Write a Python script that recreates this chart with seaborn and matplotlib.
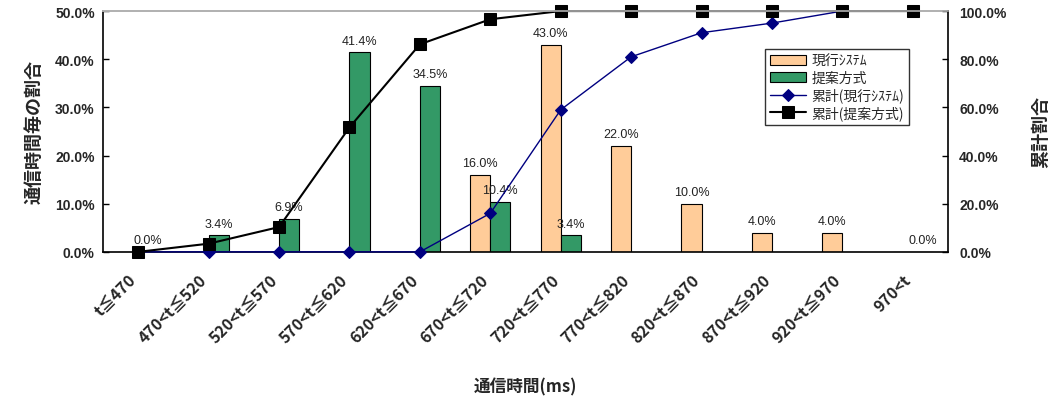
import numpy as np
import pandas as pd
import matplotlib
matplotlib.use("Agg")
import matplotlib.pyplot as plt
import matplotlib.transforms as mtransforms
import seaborn as sns
from matplotlib.ticker import FuncFormatter, FixedLocator
from matplotlib.patches import Patch

categories = ["t≦470", "470<t≦520", "520<t≦570", "570<t≦620", "620<t≦670",
              "670<t≦720", "720<t≦770", "770<t≦820", "820<t≦870", "870<t≦920",
              "920<t≦970", "970<t"]
current = [0.0, 0.0, 0.0, 0.0, 0.0, 16.0, 43.0, 22.0, 10.0, 4.0, 4.0, 0.0]
proposed = [0.0, 3.4, 6.9, 41.4, 34.5, 10.4, 3.4, 0.0, 0.0, 0.0, 0.0, 0.0]
cum_current = [0.0, 0.0, 0.0, 0.0, 0.0, 16.0, 59.0, 81.0, 91.0, 95.0, 100.0, 100.0]
cum_proposed = [0.0, 3.4, 10.3, 51.7, 86.2, 96.6, 100.0, 100.0, 100.0, 100.0, 100.0, 100.0]
series_names = ["現行ｼｽﾃﾑ", "提案方式", "累計(現行ｼｽﾃﾑ)", "累計(提案方式)"]
# which zero-valued bars still carry a label (proposed series)
zero_labels_proposed = [0, 11]

sns.set_theme(style="white")
plt.rcParams['font.family'] = ['Noto Sans CJK JP', 'DejaVu Sans']

fig = plt.figure(figsize=(10.58, 4.02), dpi=100)
ax = fig.add_axes([0.0974, 0.371, 0.7986, 0.599])

df = pd.DataFrame({
    "cat": categories * 2,
    "val": current + proposed,
    "series": [series_names[0]] * len(categories) + [series_names[1]] * len(categories),
})
bar_colors = {series_names[0]: "#FFCC99", series_names[1]: "#339966"}
sns.barplot(data=df, x="cat", y="val", hue="series", order=categories,
            hue_order=series_names[:2], palette=bar_colors, width=0.57,
            edgecolor="black", linewidth=0.8, ax=ax, legend=False, saturation=1)

ax.set_ylim(0, 50)
ax.set_xlim(-0.5, len(categories) - 0.5)
ax.yaxis.set_major_locator(FixedLocator([0, 10, 20, 30, 40, 50]))
ax.yaxis.set_major_formatter(FuncFormatter(lambda v, p: f"{v:.1f}%"))

# data labels
off = 0.57 / 4
lab_font = ['Liberation Sans', 'DejaVu Sans']
for i, v in enumerate(current):
    if v > 0:
        ax.text(i - off, v + 1.2, f"{v:.1f}%", ha="center", va="bottom",
                fontsize=9, color="#222222", family=lab_font)
for i, v in enumerate(proposed):
    if v > 0 or i in zero_labels_proposed:
        ax.text(i + off, v + 1.2, f"{v:.1f}%", ha="center", va="bottom",
                fontsize=9, color="#222222", family=lab_font)

ax2 = ax.twinx()
x_idx = np.arange(len(categories))
sns.lineplot(x=x_idx, y=cum_current, color="#000080", marker="D", markersize=6,
             markeredgecolor="#000080", linewidth=1.0, ax=ax2, label=series_names[2])
sns.lineplot(x=x_idx, y=cum_proposed, color="black", marker="s", markersize=8,
             markeredgecolor="black", linewidth=1.5, ax=ax2, label=series_names[3])
ax2.set_ylim(0, 100)
ax2.set_xlim(-0.5, len(categories) - 0.5)
ax2.yaxis.set_major_locator(FixedLocator([0, 20, 40, 60, 80, 100]))
ax2.yaxis.set_major_formatter(FuncFormatter(lambda v, p: f"{v:.1f}%"))
for a in (ax, ax2):
    for lab in a.get_yticklabels():
        lab.set_fontweight("bold")
        lab.set_fontsize(10)
        lab.set_family(['Liberation Sans', 'DejaVu Sans'])
for m in ax2.lines:
    m.set_clip_on(False)

# x ticks
ax.set_xticks(x_idx)
ax.set_xticklabels(categories, rotation=45, ha="right", rotation_mode="anchor",
                   fontsize=11.5, fontweight="bold")
ax.tick_params(axis="x", length=0, pad=14)
shift = mtransforms.ScaledTranslation(-10 / 100, 0, fig.dpi_scale_trans)
for lab in ax.get_xticklabels():
    lab.set_transform(lab.get_transform() + shift)
ax.set_xticks(np.arange(-0.5, len(categories), 1.0), minor=True)
ax.tick_params(axis="x", which="minor", direction="in", length=4, color="black", width=1)
ax.tick_params(axis="y", direction="in", length=4, color="black", width=1, left=True, pad=6)
ax2.tick_params(axis="y", direction="in", length=4, color="black", width=1, right=True, pad=8)

ax.set_xlabel("通信時間(ms)", fontsize=12, fontweight="bold", labelpad=23)
ax.set_ylabel("通信時間毎の割合", fontsize=13, fontweight="bold", labelpad=8)
ax2.set_ylabel("累計割合", fontsize=13, fontweight="bold", labelpad=18)

for a in (ax, ax2):
    for s in ["left", "right", "bottom"]:
        a.spines[s].set_color("black")
        a.spines[s].set_linewidth(1.2)
    a.spines["top"].set_color("#b0b0b0")
    a.spines["top"].set_linewidth(1.2)
ax.spines["right"].set_visible(False)
ax2.spines["left"].set_visible(False)
ax2.spines["bottom"].set_visible(False)

# legend
handles = [Patch(facecolor="#FFCC99", edgecolor="black", linewidth=0.8),
           Patch(facecolor="#339966", edgecolor="black", linewidth=0.8)]
lh, ll = ax2.get_legend_handles_labels()
handles += lh
leg = ax2.legend(handles, series_names, loc="upper left",
                 bbox_to_anchor=(0.775, 0.87), frameon=True, fancybox=False,
                 edgecolor="black", fontsize=10, handlelength=2.6, handleheight=0.7,
                 borderpad=0.35, labelspacing=0.2, handletextpad=0.4)
leg.get_frame().set_linewidth(1.0)

fig.savefig("out.png", dpi=100)
